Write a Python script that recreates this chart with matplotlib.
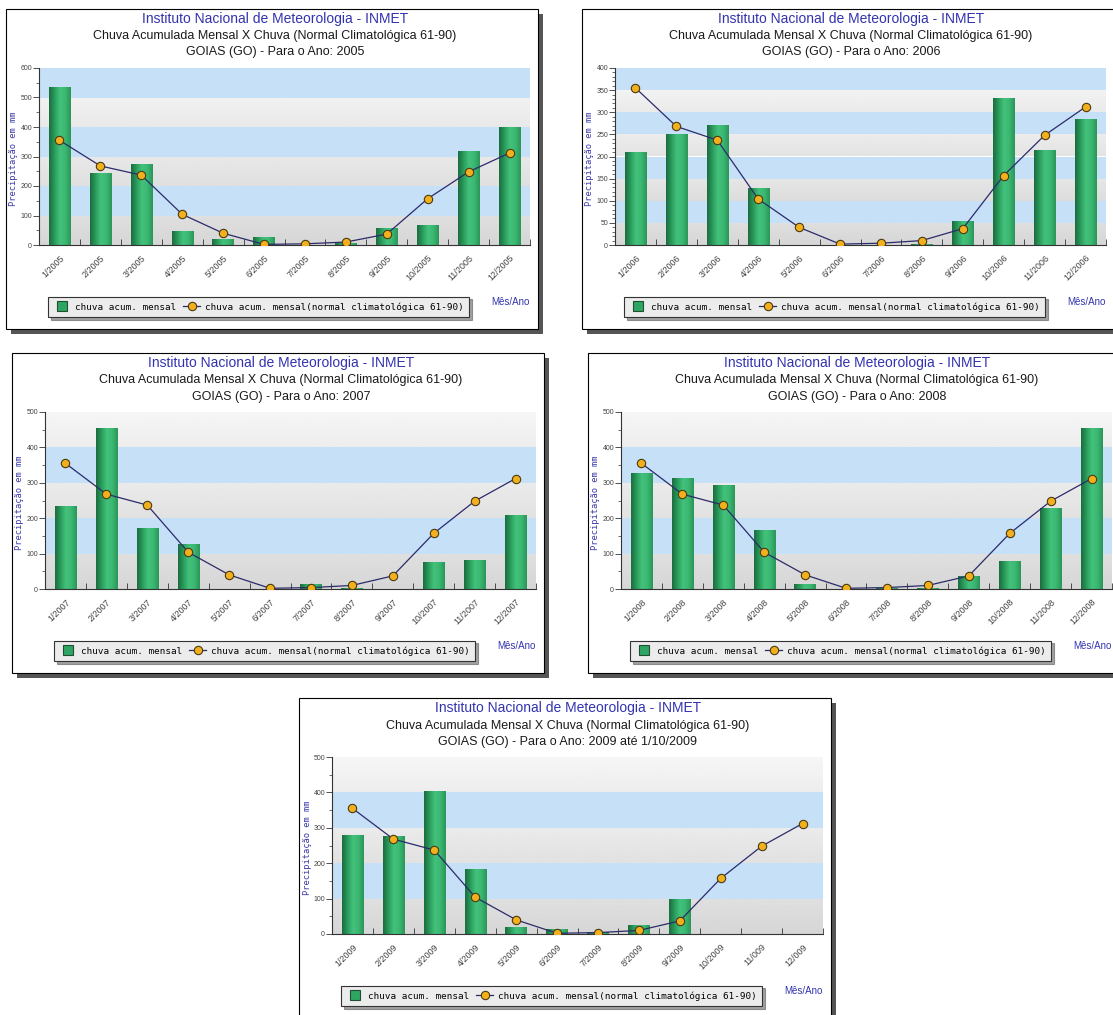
import numpy as np
import matplotlib
matplotlib.use('Agg')
import matplotlib.pyplot as plt
from matplotlib.patches import Rectangle
from matplotlib.lines import Line2D
from matplotlib.colors import LinearSegmentedColormap
from matplotlib.ticker import MultipleLocator, FixedLocator

plt.rcParams['font.family'] = ['Liberation Sans', 'DejaVu Sans']

W, H = 1113, 1015

# normal climatologica 61-90 (mm), a mesma em todos os anos
normal = [355, 268, 237, 104, 40, 2, 4, 10, 37, 157, 248, 312]

# chuva acumulada mensal (mm)
chuva_2005 = [534, 243, 275, 47, 21, 28, 1, 7, 59, 68, 317, 399]
chuva_2006 = [210, 250, 271, 128, 0, 0, 1, 2, 55, 332, 214, 284]
chuva_2007 = [234, 455, 172, 127, 0, 0, 14, 3, 0, 75, 82, 208]
chuva_2008 = [328, 313, 295, 167, 14, 0, 2, 3, 37, 79, 229, 455]
chuva_2009 = [281, 276, 405, 184, 21, 15, 5, 26, 100, np.nan, np.nan, np.nan]

anos = ['2005', '2006', '2007', '2008', '2009']
periodos = ['2005', '2006', '2007', '2008', '2009 até 1/10/2009']
rotulos_2009 = ['1/2009', '2/2009', '3/2009', '4/2009', '5/2009', '6/2009',
                '7/2009', '8/2009', '9/2009', '10/2009', '11/009', '12/009']

y_max = [600, 400, 500, 500, 500]
y_passo = [100, 50, 100, 100, 100]
y_menor = [50, 10, 50, 50, 50]

origens = [(6, 9), (582, 9), (12, 353), (588, 353), (299, 698)]
PW, PH = 532, 320

AZUL_TXT = '#3333b0'
AZUL_FAIXA = '#c6e0f8'
verde = LinearSegmentedColormap.from_list(
    'verde', ['#1b6c3e', '#2a9c5c', '#43c27c', '#3bb873', '#2a9558'])

fig = plt.figure(figsize=(W / 100, H / 100), dpi=100)


def fx(x):
    return x / W


def fy(y):
    return 1 - y / H


def painel(i, chuva, rotulos):
    x0, y0 = origens[i]

    # sombra e moldura do painel
    fig.add_artist(Rectangle((fx(x0 + 5), fy(y0 + PH + 5)), PW / W, PH / H,
                             transform=fig.transFigure, facecolor='#555555',
                             edgecolor='none', zorder=-2))
    fig.add_artist(Rectangle((fx(x0), fy(y0 + PH)), PW / W, PH / H,
                             transform=fig.transFigure, facecolor='white',
                             edgecolor='black', lw=0.8, zorder=-1))

    ax = fig.add_axes([fx(x0 + 33), fy(y0 + 236), 491 / W, 177 / H])
    ax.set_facecolor('none')

    # faixas de fundo: cinza (leve degrade) embaixo, alternando com azul
    passo = y_passo[i]
    nb = y_max[i] // passo
    for k in range(nb):
        lo, hi = k * passo, (k + 1) * passo
        if k % 2:
            ax.axhspan(lo, hi, color=AZUL_FAIXA, lw=0, zorder=0)
        else:
            t = k / max(nb - 1, 1)
            base = 0.84 + 0.09 * t
            grad = np.linspace(base + 0.035, base, 32).reshape(-1, 1)
            ax.imshow(grad, extent=(-0.5, 11.5, lo, hi), cmap='gray',
                      vmin=0, vmax=1, aspect='auto', origin='upper',
                      interpolation='bilinear', zorder=0)

    x = np.arange(12)
    barras = ax.bar(x, chuva, width=0.52, color='#2fa563', lw=0, zorder=2)
    for b in barras:
        if not b.get_height() > 0:
            continue
        g = ax.imshow(np.linspace(0, 1, 64).reshape(1, -1), cmap=verde,
                      extent=(b.get_x(), b.get_x() + b.get_width(), 0, b.get_height()),
                      aspect='auto', interpolation='bilinear', zorder=2.1)
        g.set_clip_path(b)

    ax.plot(x, normal, color='#2b2b6b', lw=0.9, marker='o', ms=6,
            mfc='#f2b01e', mec='#4a3a10', mew=0.8, zorder=3)

    ax.set_xlim(-0.5, 11.5)
    ax.set_ylim(0, y_max[i])

    for s in ('top', 'right'):
        ax.spines[s].set_visible(False)
    for s in ('left', 'bottom'):
        ax.spines[s].set_color('#333333')
        ax.spines[s].set_linewidth(0.8)

    ax.yaxis.set_major_locator(MultipleLocator(passo))
    ax.yaxis.set_minor_locator(MultipleLocator(y_menor[i]))
    ax.tick_params(axis='y', which='major', length=4, width=0.6,
                   labelsize=5, labelcolor='#444444', pad=1, color='#333333')
    ax.tick_params(axis='y', which='minor', length=2, width=0.5, color='#333333')

    ax.set_xticks(x)
    ax.set_xticklabels(rotulos, rotation=45, ha='right', va='top',
                       rotation_mode='anchor')
    ax.xaxis.set_minor_locator(FixedLocator(np.arange(0.5, 12, 1)))
    ax.tick_params(axis='x', which='major', length=0, labelsize=6.5,
                   labelcolor='#444444', pad=6)
    ax.tick_params(axis='x', which='minor', direction='in', length=4,
                   width=0.6, color='#333333')

    # titulos
    cx = x0 + 269
    fig.text(fx(cx), fy(y0 + 10), 'Instituto Nacional de Meteorologia - INMET',
             ha='center', va='center', fontsize=10, color=AZUL_TXT)
    fig.text(fx(cx), fy(y0 + 27.5),
             'Chuva Acumulada Mensal X Chuva (Normal Climatológica 61-90)',
             ha='center', va='center', fontsize=9, color='#1a1a1a')
    fig.text(fx(cx), fy(y0 + 43.5), 'GOIAS (GO) - Para o Ano: ' + periodos[i],
             ha='center', va='center', fontsize=9, color='#1a1a1a')

    fig.text(fx(x0 + 8), fy(y0 + 150), 'Precipitação em mm', rotation=90,
             ha='center', va='center', fontsize=6.3, color='#3a3aa8',
             family='DejaVu Sans Mono')
    fig.text(fx(x0 + 504), fy(y0 + 293), 'Mês/Ano', ha='center', va='center',
             fontsize=7, color=AZUL_TXT)

    h_bar = Line2D([], [], ls='none', marker='s', ms=7, mfc='#2fa563',
                   mec='#1f4f30', mew=0.8)
    h_lin = Line2D([], [], color='#2b2b6b', lw=0.9, marker='o', ms=6,
                   mfc='#f2b01e', mec='#4a3a10', mew=0.8)
    leg = ax.legend([h_bar, h_lin],
                    ['chuva acum. mensal',
                     'chuva acum. mensal(normal climatológica 61-90)'],
                    ncol=2, loc='center',
                    bbox_to_anchor=(fx(x0 + 252.5), fy(y0 + 298)),
                    bbox_transform=fig.transFigure,
                    prop={'family': 'DejaVu Sans Mono', 'size': 6.7},
                    frameon=True, fancybox=False, shadow=True,
                    edgecolor='#333333', facecolor='#ececec', framealpha=1,
                    handlelength=1.8, handletextpad=0.5, columnspacing=0.8,
                    borderpad=0.6)
    leg.get_frame().set_linewidth(0.8)
    return ax


series = [chuva_2005, chuva_2006, chuva_2007, chuva_2008, chuva_2009]
for i, (ano, chuva) in enumerate(zip(anos, series)):
    if ano == '2009':
        rotulos = rotulos_2009
    else:
        rotulos = ['{}/{}'.format(m, ano) for m in range(1, 13)]
    painel(i, chuva, rotulos)

fig.savefig('out.png', dpi=100, facecolor='white')
